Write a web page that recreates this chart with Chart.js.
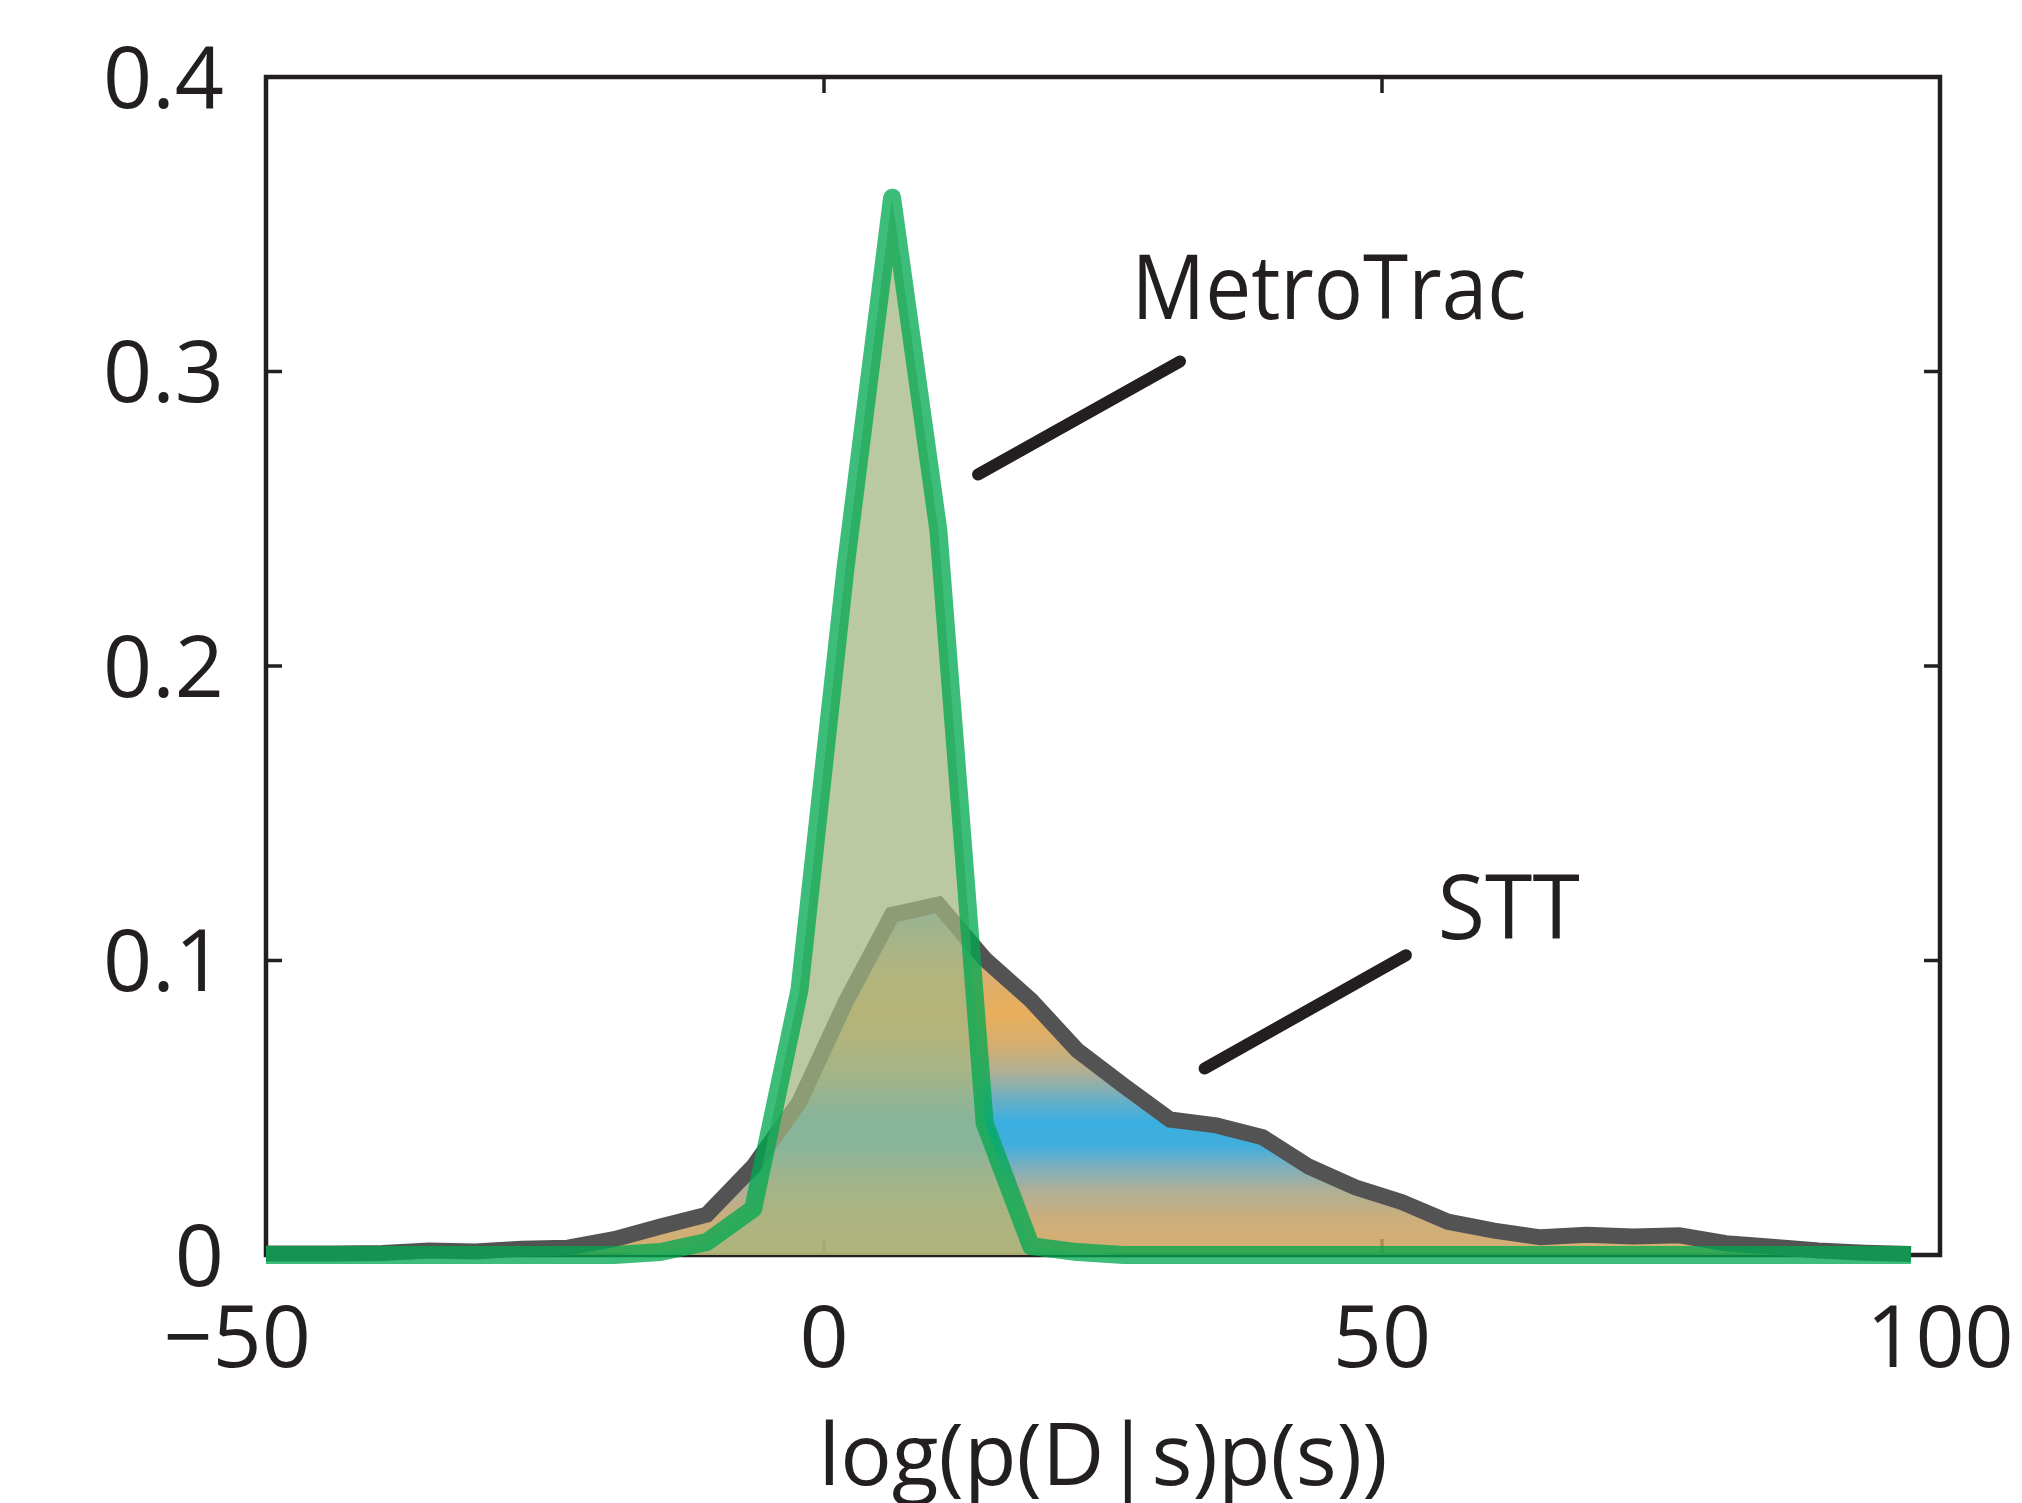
<!DOCTYPE html>
<html>
<head>
<meta charset="utf-8">
<title>log(p(D|s)p(s))</title>
<script src="https://cdn.jsdelivr.net/npm/chart.js@4.4.1/dist/chart.umd.min.js"></script>
<style>
    html, body { margin: 0; padding: 0; background: #ffffff; }
    #wrap { width: 2022px; height: 1503px; }
</style>
</head>
<body>
<div id="wrap"><canvas id="chart" width="2022" height="1503"></canvas></div>
<script>
// Histogram centres (x) shared by both curves
const binCenters = [-50, -47.85, -43.7, -39.55, -35.4, -31.25, -27.1, -22.95, -18.8, -14.65,
    -10.5, -6.35, -2.2, 1.95, 6.1, 10.25, 14.4, 18.55, 22.7, 26.85,
    31.0, 35.15, 39.3, 43.45, 47.6, 51.75, 55.9, 60.05, 64.2, 68.35,
    72.5, 76.65, 80.8, 84.95, 89.1, 93.25, 97.4];

// STT (grey curve, gradient fill)
const sttValues = [0.0005, 0.0005, 0.0005, 0.0007, 0.0015, 0.0012, 0.0021, 0.0025, 0.0054, 0.0097,
    0.0137, 0.030, 0.052, 0.086, 0.1155, 0.119, 0.1005, 0.0865, 0.0695, 0.0575,
    0.046, 0.044, 0.040, 0.030, 0.023, 0.018, 0.0113, 0.0083, 0.0060, 0.0069,
    0.0063, 0.0067, 0.0040, 0.0028, 0.0015, 0.0008, 0.0003];

// MetroTrac (green curve)
const metroValues = [0, 0, 0, 0, 0, 0, 0, 0, 0, 0.001,
    0.0044, 0.0157, 0.090, 0.234, 0.359, 0.246, 0.0447, 0.003, 0.001, 0,
    0, 0, 0, 0, 0, 0, 0, 0, 0, 0,
    0, 0, 0, 0, 0, 0, 0];

// Axis ticks (the minus label hangs left of its tick, as in the original)
const xTicks = [-50, 0, 50, 100];
const xTickLabels = ['\u221250\u2007\u200A', '0', '50', '100'];
const yTicks = [0, 0.1, 0.2, 0.3, 0.4];
const yTickLabels = ['0', '0.1', '0.2', '0.3', '0.4'];

// Series labels with their leader lines (data units)
const seriesNotes = [
    { text: 'MetroTrac', at: [27.55, 0.3177], width: 395, from: [13.8, 0.265], to: [31.9, 0.3034] },
    { text: 'STT', at: [55.0, 0.1073], width: 142, from: [34.1, 0.0633], to: [52.15, 0.1018] }
];

const INK = '#231f20';
const FONT = '"Open Sans", "Noto Sans", sans-serif';
const TICK_LEN = 16;

// Vertical banding of the STT fill (value -> colour), used at 85% opacity
const sttBands = [
    [0, 'rgb(208,160,87)'],
    [0.012, 'rgb(196,160,99)'],
    [0.022, 'rgb(161,161,131)'],
    [0.03, 'rgb(102,161,179)'],
    [0.037, 'rgb(31,160,214)'],
    [0.045, 'rgb(23,160,219)'],
    [0.052, 'rgb(73,161,190)'],
    [0.062, 'rgb(161,161,131)'],
    [0.072, 'rgb(208,160,84)'],
    [0.082, 'rgb(228,160,63)'],
    [0.095, 'rgb(214,160,84)'],
    [0.105, 'rgb(179,161,131)'],
    [0.12, 'rgb(61,160,202)']
];

function sttFill(context) {
    const chart = context.chart;
    const { ctx, chartArea, scales } = chart;
    if (!chartArea) return 'rgba(208,160,87,0.85)';
    const top = sttBands[sttBands.length - 1][0];
    const y0 = scales.y.getPixelForValue(0);
    const y1 = scales.y.getPixelForValue(top);
    const g = ctx.createLinearGradient(0, y0, 0, y1);
    sttBands.forEach(([v, c]) => g.addColorStop(v / top, c.replace('rgb(', 'rgba(').replace(')', ',0.85)')));
    return g;
}

// Box round the axes with inward ticks on all four sides (drawn under the curves)
const boxPlugin = {
    id: 'matlabBox',
    beforeDatasetsDraw(chart) {
        const { ctx, chartArea: a, scales: { x, y } } = chart;
        ctx.save();
        ctx.strokeStyle = INK;
        ctx.lineWidth = 4.5;
        ctx.lineJoin = 'miter';
        ctx.strokeRect(a.left, a.top, a.right - a.left, a.bottom - a.top);

        ctx.lineWidth = 3.5;
        ctx.beginPath();
        x.ticks.forEach(t => {
            const px = x.getPixelForValue(t.value);
            ctx.moveTo(px, a.top);
            ctx.lineTo(px, a.top + TICK_LEN);
            ctx.moveTo(px, a.bottom);
            ctx.lineTo(px, a.bottom - TICK_LEN);
        });
        y.ticks.forEach(t => {
            const py = y.getPixelForValue(t.value);
            ctx.moveTo(a.left, py);
            ctx.lineTo(a.left + TICK_LEN, py);
            ctx.moveTo(a.right, py);
            ctx.lineTo(a.right - TICK_LEN, py);
        });
        ctx.stroke();
        ctx.restore();
    }
};

// Text labels and leader lines for the two series
const notesPlugin = {
    id: 'seriesNotes',
    afterDatasetsDraw(chart) {
        const { ctx, scales: { x, y } } = chart;
        ctx.save();
        ctx.strokeStyle = INK;
        ctx.fillStyle = INK;
        ctx.lineWidth = 12;
        ctx.lineCap = 'round';
        ctx.font = '90px ' + FONT;
        ctx.textAlign = 'left';
        ctx.textBaseline = 'alphabetic';
        seriesNotes.forEach(n => {
            ctx.beginPath();
            ctx.moveTo(x.getPixelForValue(n.from[0]), y.getPixelForValue(n.from[1]));
            ctx.lineTo(x.getPixelForValue(n.to[0]), y.getPixelForValue(n.to[1]));
            ctx.stroke();
            ctx.fillText(n.text, x.getPixelForValue(n.at[0]), y.getPixelForValue(n.at[1]), n.width);
        });
        ctx.restore();
    }
};

function toPoints(values) {
    return binCenters.map((x, i) => ({ x: x, y: values[i] }));
}

// Keep the plot box where the original has it: no extra room for edge labels
function noEdgePadding(scale) {
    scale.paddingLeft = 0;
    scale.paddingRight = 0;
    scale.paddingTop = 0;
    scale.paddingBottom = 0;
}

new Chart(document.getElementById('chart'), {
    type: 'line',
    data: {
        datasets: [
            {
                label: 'MetroTrac',
                data: toPoints(metroValues),
                borderColor: 'rgba(0,168,80,0.76)',
                borderWidth: 18,
                backgroundColor: 'rgba(162,182,130,0.74)',
                fill: 'origin',
                tension: 0,
                pointRadius: 0,
                borderJoinStyle: 'round',
                borderCapStyle: 'butt',
                clip: { left: 0, top: 20, right: 20, bottom: 20 }
            },
            {
                label: 'STT',
                data: toPoints(sttValues),
                borderColor: '#545354',
                borderWidth: 16,
                backgroundColor: sttFill,
                fill: 'origin',
                tension: 0,
                pointRadius: 0,
                borderJoinStyle: 'miter',
                borderCapStyle: 'butt',
                clip: { left: 0, top: 20, right: 20, bottom: 20 }
            }
        ]
    },
    options: {
        responsive: false,
        animation: false,
        devicePixelRatio: 1,
        layout: { padding: { top: 77, right: 82, left: 0, bottom: 0 } },
        plugins: {
            legend: { display: false },
            tooltip: { enabled: false },
            title: { display: false }
        },
        scales: {
            x: {
                type: 'linear',
                min: -50,
                max: 100,
                grid: { display: false, drawTicks: false },
                border: { display: false },
                afterBuildTicks: scale => { scale.ticks = xTicks.map(v => ({ value: v })); },
                afterFit: scale => { scale.height = 248; noEdgePadding(scale); },
                ticks: {
                    color: INK,
                    font: { family: FONT, size: 86, lineHeight: 1 },
                    padding: 44,
                    maxRotation: 0,
                    autoSkip: false,
                    callback: (value, index) => xTickLabels[index]
                },
                title: {
                    display: true,
                    text: 'log(p(D|s)p(s))',
                    color: INK,
                    font: { family: FONT, size: 86, lineHeight: 1 },
                    padding: { top: 0, bottom: 0 }
                }
            },
            y: {
                type: 'linear',
                min: 0,
                max: 0.4,
                grid: { display: false, drawTicks: false },
                border: { display: false },
                afterBuildTicks: scale => { scale.ticks = yTicks.map(v => ({ value: v })); },
                afterFit: scale => { scale.width = 266; noEdgePadding(scale); },
                ticks: {
                    color: INK,
                    font: { family: FONT, size: 86, lineHeight: 1 },
                    padding: 42,
                    labelOffset: 6,
                    autoSkip: false,
                    callback: (value, index) => yTickLabels[index]
                }
            }
        }
    },
    plugins: [boxPlugin, notesPlugin]
});
</script>
</body>
</html>
